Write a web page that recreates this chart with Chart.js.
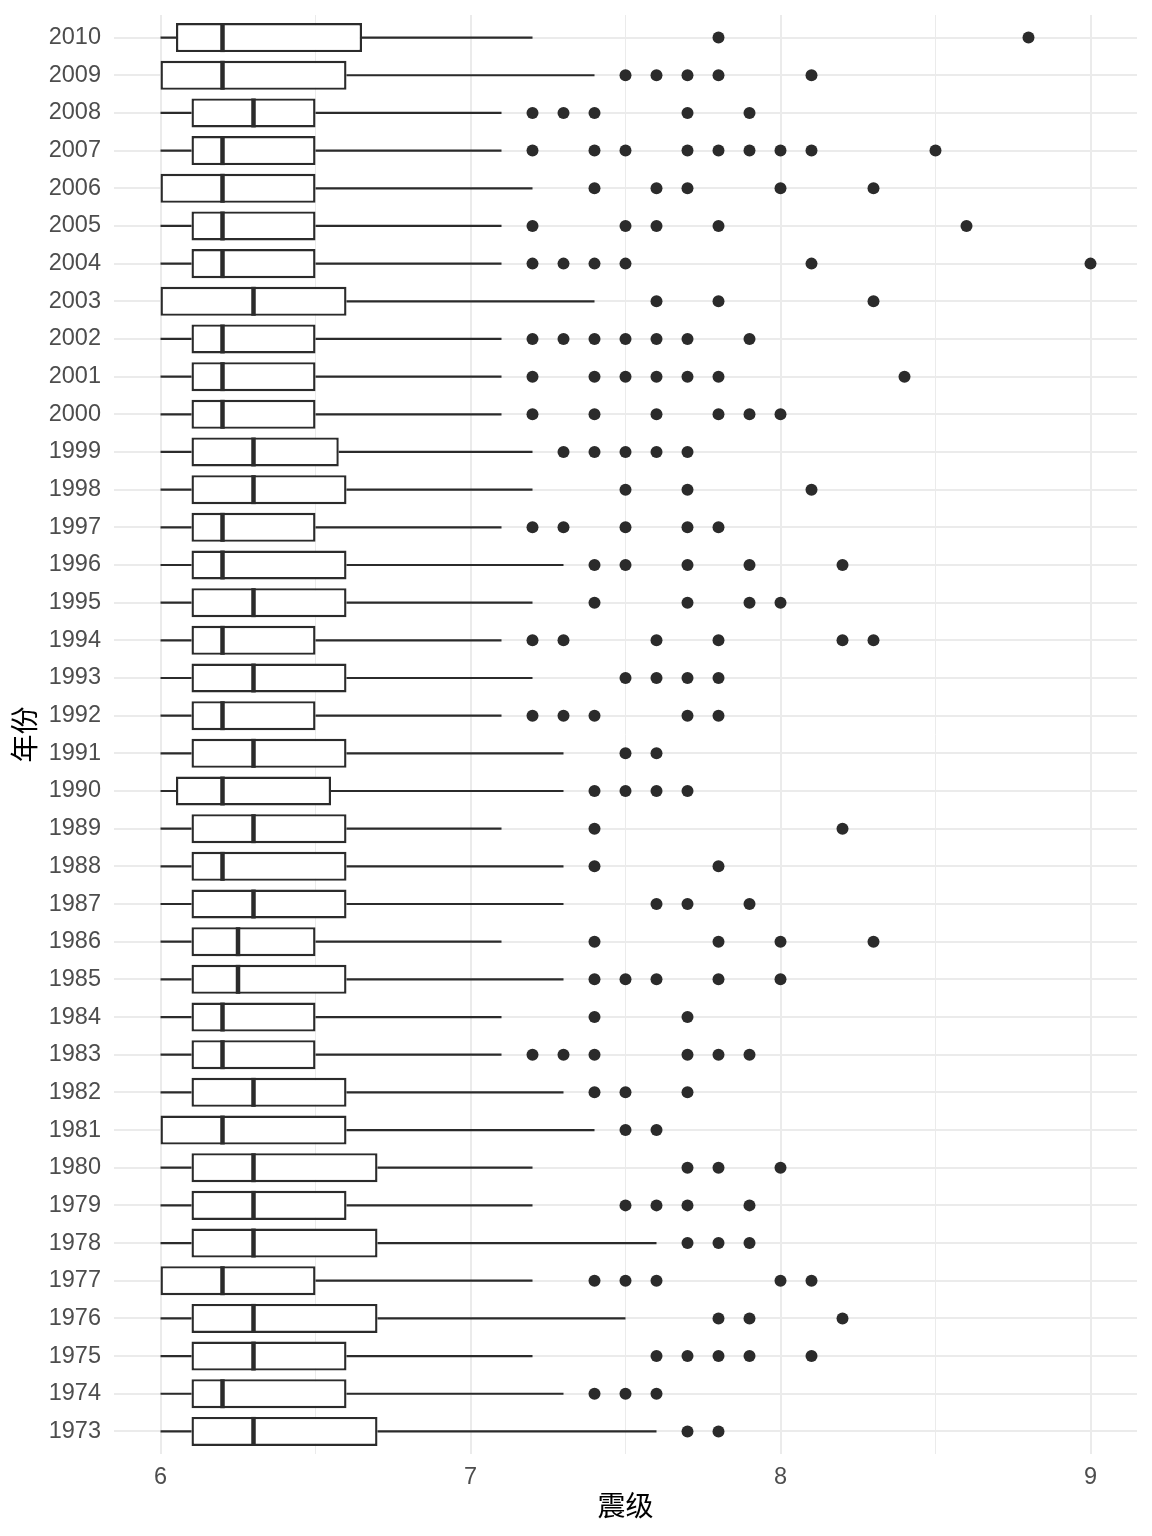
<!DOCTYPE html>
<html>
<head>
<meta charset="utf-8">
<script src="https://cdn.jsdelivr.net/npm/chart.js@4.4.0/dist/chart.umd.min.js"></script>
<style>
  html, body { margin: 0; padding: 0; background: #ffffff; }
  #wrap { width: 1152px; height: 1536px; }
</style>
</head>
<body>
<div id="wrap"><canvas id="quakeChart" width="1152" height="1536"></canvas></div>
<script>
// Years, bottom to top
const years = [1973, 1974, 1975, 1976, 1977, 1978, 1979, 1980, 1981, 1982,
  1983, 1984, 1985, 1986, 1987, 1988, 1989, 1990, 1991, 1992,
  1993, 1994, 1995, 1996, 1997, 1998, 1999, 2000, 2001, 2002,
  2003, 2004, 2005, 2006, 2007, 2008, 2009, 2010];

// Box statistics per year (magnitude)
const whiskerLow = [6.0, 6.0, 6.0, 6.0, 6.0, 6.0, 6.0, 6.0, 6.0, 6.0,
  6.0, 6.0, 6.0, 6.0, 6.0, 6.0, 6.0, 6.0, 6.0, 6.0,
  6.0, 6.0, 6.0, 6.0, 6.0, 6.0, 6.0, 6.0, 6.0, 6.0,
  6.0, 6.0, 6.0, 6.0, 6.0, 6.0, 6.0, 6.0];
const q1 = [6.1, 6.1, 6.1, 6.1, 6.0, 6.1, 6.1, 6.1, 6.0, 6.1,
  6.1, 6.1, 6.1, 6.1, 6.1, 6.1, 6.1, 6.05, 6.1, 6.1,
  6.1, 6.1, 6.1, 6.1, 6.1, 6.1, 6.1, 6.1, 6.1, 6.1,
  6.0, 6.1, 6.1, 6.0, 6.1, 6.1, 6.0, 6.05];
const median = [6.3, 6.2, 6.3, 6.3, 6.2, 6.3, 6.3, 6.3, 6.2, 6.3,
  6.2, 6.2, 6.25, 6.25, 6.3, 6.2, 6.3, 6.2, 6.3, 6.2,
  6.3, 6.2, 6.3, 6.2, 6.2, 6.3, 6.3, 6.2, 6.2, 6.2,
  6.3, 6.2, 6.2, 6.2, 6.2, 6.3, 6.2, 6.2];
const q3 = [6.7, 6.6, 6.6, 6.7, 6.5, 6.7, 6.6, 6.7, 6.6, 6.6,
  6.5, 6.5, 6.6, 6.5, 6.6, 6.6, 6.6, 6.55, 6.6, 6.5,
  6.6, 6.5, 6.6, 6.6, 6.5, 6.6, 6.575, 6.5, 6.5, 6.5,
  6.6, 6.5, 6.5, 6.5, 6.5, 6.5, 6.6, 6.65];
const whiskerHigh = [7.6, 7.3, 7.2, 7.5, 7.2, 7.6, 7.2, 7.2, 7.4, 7.3,
  7.1, 7.1, 7.3, 7.1, 7.3, 7.3, 7.1, 7.3, 7.3, 7.1,
  7.2, 7.1, 7.2, 7.3, 7.1, 7.2, 7.2, 7.1, 7.1, 7.1,
  7.4, 7.1, 7.1, 7.2, 7.1, 7.1, 7.4, 7.2];
const outliers = [
  [7.7, 7.8],                          // 1973
  [7.4, 7.5, 7.6],                     // 1974
  [7.6, 7.7, 7.8, 7.9, 8.1],           // 1975
  [7.8, 7.9, 8.2],                     // 1976
  [7.4, 7.5, 7.6, 8.0, 8.1],           // 1977
  [7.7, 7.8, 7.9],                     // 1978
  [7.5, 7.6, 7.7, 7.9],                // 1979
  [7.7, 7.8, 8.0],                     // 1980
  [7.5, 7.6],                          // 1981
  [7.4, 7.5, 7.7],                     // 1982
  [7.2, 7.3, 7.4, 7.7, 7.8, 7.9],      // 1983
  [7.4, 7.7],                          // 1984
  [7.4, 7.5, 7.6, 7.8, 8.0],           // 1985
  [7.4, 7.8, 8.0, 8.3],                // 1986
  [7.6, 7.7, 7.9],                     // 1987
  [7.4, 7.8],                          // 1988
  [7.4, 8.2],                          // 1989
  [7.4, 7.5, 7.6, 7.7],                // 1990
  [7.5, 7.6],                          // 1991
  [7.2, 7.3, 7.4, 7.7, 7.8],           // 1992
  [7.5, 7.6, 7.7, 7.8],                // 1993
  [7.2, 7.3, 7.6, 7.8, 8.2, 8.3],      // 1994
  [7.4, 7.7, 7.9, 8.0],                // 1995
  [7.4, 7.5, 7.7, 7.9, 8.2],           // 1996
  [7.2, 7.3, 7.5, 7.7, 7.8],           // 1997
  [7.5, 7.7, 8.1],                     // 1998
  [7.3, 7.4, 7.5, 7.6, 7.7],           // 1999
  [7.2, 7.4, 7.6, 7.8, 7.9, 8.0],      // 2000
  [7.2, 7.4, 7.5, 7.6, 7.7, 7.8, 8.4], // 2001
  [7.2, 7.3, 7.4, 7.5, 7.6, 7.7, 7.9], // 2002
  [7.6, 7.8, 8.3],                     // 2003
  [7.2, 7.3, 7.4, 7.5, 8.1, 9.0],      // 2004
  [7.2, 7.5, 7.6, 7.8, 8.6],           // 2005
  [7.4, 7.6, 7.7, 8.0, 8.3],           // 2006
  [7.2, 7.4, 7.5, 7.7, 7.8, 7.9, 8.0, 8.1, 8.5], // 2007
  [7.2, 7.3, 7.4, 7.7, 7.9],           // 2008
  [7.5, 7.6, 7.7, 7.8, 8.1],           // 2009
  [7.8, 8.8]                           // 2010
];

const xTicks = [6, 7, 8, 9];
const xTitle = '震级';
const yTitle = '年份';

const INK = '#2b2b2b';
const GRID = '#ebebeb';

// Build datasets from the arrays
const boxData = years.map((y, i) => ({ y: i, x: [q1[i], q3[i]] }));
const outlierData = [];
outliers.forEach((list, i) => {
  list.forEach((v) => outlierData.push({ x: v, y: i }));
});

// Whiskers under the boxes, medians on top
const boxExtras = {
  id: 'boxExtras',
  beforeDatasetsDraw(chart) {
    const { ctx, scales } = chart;
    const xs = scales.x, ys = scales.y;
    ctx.save();
    ctx.strokeStyle = INK;
    ctx.lineWidth = 2.2;
    years.forEach((yr, i) => {
      const py = ys.getPixelForValue(i);
      ctx.beginPath();
      ctx.moveTo(xs.getPixelForValue(whiskerLow[i]), py);
      ctx.lineTo(xs.getPixelForValue(q1[i]), py);
      ctx.moveTo(xs.getPixelForValue(q3[i]), py);
      ctx.lineTo(xs.getPixelForValue(whiskerHigh[i]), py);
      ctx.stroke();
    });
    ctx.restore();
  },
  afterDatasetDraw(chart, args) {
    if (args.index !== 0) return;
    const { ctx, scales } = chart;
    const xs = scales.x;
    const meta = chart.getDatasetMeta(0);
    ctx.save();
    ctx.strokeStyle = INK;
    ctx.lineWidth = 4.5;
    meta.data.forEach((bar, i) => {
      const half = bar.height / 2;
      const px = xs.getPixelForValue(median[i]);
      ctx.beginPath();
      ctx.moveTo(px, bar.y - half);
      ctx.lineTo(px, bar.y + half);
      ctx.stroke();
    });
    ctx.restore();
  }
};

const ctx = document.getElementById('quakeChart').getContext('2d');
new Chart(ctx, {
  type: 'bar',
  data: {
    datasets: [
      {
        type: 'bar',
        indexAxis: 'y',
        data: boxData,
        backgroundColor: '#ffffff',
        borderColor: INK,
        borderWidth: 2.4,
        borderSkipped: false,
        barPercentage: 0.77,
        categoryPercentage: 1
      },
      {
        type: 'scatter',
        data: outlierData,
        pointRadius: 6,
        pointBackgroundColor: INK,
        pointBorderWidth: 0
      }
    ]
  },
  options: {
    responsive: false,
    animation: false,
    events: [],
    layout: { padding: { top: 15, right: 15, left: 0, bottom: 0 } },
    plugins: { legend: { display: false }, tooltip: { enabled: false } },
    scales: {
      x: {
        type: 'linear',
        position: 'bottom',
        offset: false,
        min: 5.85,
        max: 9.15,
        afterBuildTicks(axis) {
          axis.ticks = axis.ticks.filter((t) => Number.isInteger(t.value * 2) && t.value >= 6 && t.value <= 9);
        },
        afterFit(axis) {
          axis.height = 82;
          axis.paddingLeft = 0;
          axis.paddingRight = 0;
        },
        ticks: {
          stepSize: 0.5,
          includeBounds: false,
          padding: 9,
          color: '#4d4d4d',
          font: { family: 'Liberation Sans, Arial, sans-serif', size: 23.5 },
          maxRotation: 0,
          autoSkip: false,
          callback: (v) => (xTicks.includes(v) ? String(v) : '')
        },
        grid: {
          offset: false,
          color: GRID,
          lineWidth: (c) => (c.tick && Number.isInteger(c.tick.value) ? 2 : 1),
          drawTicks: false
        },
        border: { display: false },
        title: {
          display: true,
          text: xTitle,
          color: '#000000',
          font: { family: 'Noto Sans CJK SC, sans-serif', size: 28 },
          padding: { top: 0, bottom: 14 }
        }
      },
      y: {
        type: 'linear',
        position: 'left',
        offset: false,
        min: -0.6,
        max: years.length - 0.4,
        afterBuildTicks(axis) {
          axis.ticks = axis.ticks.filter((t) => Number.isInteger(t.value) && t.value >= 0 && t.value < years.length);
        },
        afterFit(axis) {
          axis.width = 114;
          axis.paddingTop = 0;
          axis.paddingBottom = 0;
        },
        ticks: {
          stepSize: 1,
          includeBounds: false,
          padding: 13,
          autoSkip: false,
          color: '#4d4d4d',
          font: { family: 'Liberation Sans, Arial, sans-serif', size: 23.5 },
          callback: (v) => String(years[v])
        },
        grid: { offset: false, color: GRID, lineWidth: 2, drawTicks: false },
        border: { display: false },
        title: {
          display: true,
          text: yTitle,
          color: '#000000',
          font: { family: 'Noto Sans CJK SC, sans-serif', size: 28 },
          padding: { top: 8, bottom: 0 }
        }
      }
    }
  },
  plugins: [boxExtras]
});
</script>
</body>
</html>
